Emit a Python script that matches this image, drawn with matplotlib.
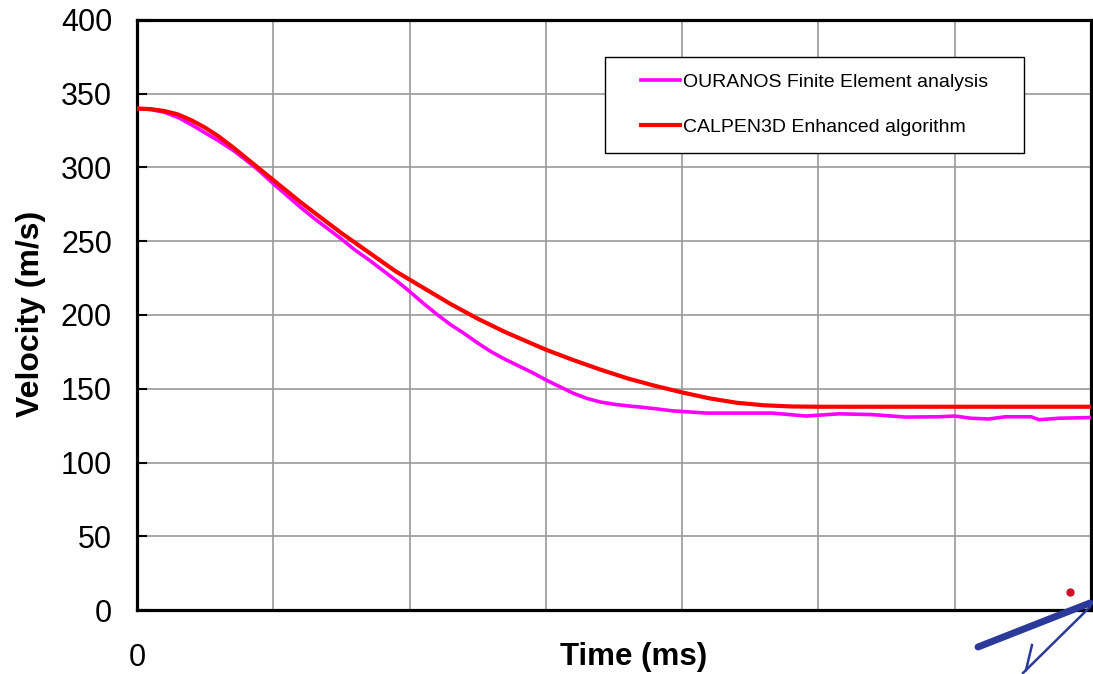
import matplotlib
matplotlib.use('Agg')
import matplotlib.pyplot as plt
from matplotlib.lines import Line2D
from matplotlib.path import Path

plt.rcParams['font.family'] = ['Liberation Sans', 'DejaVu Sans']

# CALPEN3D enhanced algorithm (smooth curve)
t_calpen = [0, 0.1, 0.2, 0.3, 0.4, 0.5, 0.6, 0.7, 0.8, 0.9, 1.0, 1.1, 1.2,
            1.3, 1.4, 1.5, 1.6, 1.7, 1.8, 1.9, 2.0, 2.1, 2.2, 2.3, 2.4, 2.5,
            2.6, 2.7, 2.8, 2.9, 3.0, 3.2, 3.4, 3.6, 3.8, 4.0, 4.2, 4.4, 4.6,
            4.8, 5.0, 6.0, 7.0]
v_calpen = [340, 339.6, 338.3, 336, 332, 327, 321, 314, 306.5, 299, 291.5,
            284, 276.5, 269.5, 262.5, 255.5, 249, 242.5, 236, 229.5, 224,
            218.5, 213, 207.5, 202.5, 197.5, 193, 188.5, 184.5, 180.5, 176.5,
            169.5, 163, 157, 152, 147.5, 143.5, 140.5, 138.8, 138, 137.8,
            137.8, 137.8]

# OURANOS finite element analysis (noisy tail)
t_ouranos = [0, 0.1, 0.2, 0.3, 0.4, 0.5, 0.6, 0.7, 0.8, 0.9, 1.0, 1.1, 1.2,
             1.3, 1.4, 1.5, 1.6, 1.7, 1.8, 1.9, 2.0, 2.1, 2.2, 2.3, 2.4, 2.5,
             2.6, 2.7, 2.8, 2.9, 3.0, 3.1, 3.2, 3.3, 3.4, 3.5, 3.6, 3.7, 3.8,
             3.93, 4.18, 4.42, 4.66, 4.91, 5.15, 5.39, 5.64, 5.88, 6.0, 6.12,
             6.25, 6.37, 6.56, 6.62, 6.76, 7.0]
v_ouranos = [340, 339.3, 337.5, 334, 329, 323.5, 318, 312, 305, 297.5, 289,
             281, 273, 265.5, 258.5, 251.5, 244, 237.5, 230.5, 223.5, 216,
             208, 200.5, 193.5, 187.5, 181, 175, 170, 165.5, 161, 156, 151.5,
             147, 143.5, 141, 139.5, 138.4, 137.5, 136.5, 135, 133.5, 133.5,
             133.5, 131.5, 133, 132.5, 130.8, 131, 131.5, 130, 129.5, 131,
             131, 129, 130, 130.5]

y_ticks = [0, 50, 100, 150, 200, 250, 300, 350, 400]
x_ticks = [0, 1, 2, 3, 4, 5, 6, 7]
x_labels = ['0', '', '', '', '', '', '', '']


def wide_box(x0, y0, width, height, mutation_size):
    # square frame with extra room on the left and right only
    px = 1.0 * mutation_size
    return Path([(x0 - px, y0), (x0 + width + px, y0),
                 (x0 + width + px, y0 + height), (x0 - px, y0 + height),
                 (x0 - px, y0)], closed=True)


fig = plt.figure(figsize=(10.93, 6.74), dpi=100)
ax = fig.add_axes([137 / 1093, 64 / 674, 954 / 1093, 590 / 674])

ax.plot(t_ouranos, v_ouranos, color='#ff00ff', lw=2.6,
        label='OURANOS Finite Element analysis', zorder=3,
        solid_joinstyle='round')
ax.plot(t_calpen, v_calpen, color='#ff0000', lw=3.0,
        label='CALPEN3D Enhanced algorithm', zorder=4,
        solid_joinstyle='round')

ax.set_xlim(0, 7)
ax.set_ylim(0, 400)
ax.set_yticks(y_ticks)
ax.set_xticks(x_ticks)
ax.set_xticklabels(x_labels)
ax.grid(True, color='#999999', lw=1.2)
ax.set_axisbelow(True)

for s in ax.spines.values():
    s.set_linewidth(2.3)
    s.set_color('black')

ax.tick_params(axis='y', direction='in', length=7, width=1.5,
               labelsize=22, pad=18)
ax.tick_params(axis='x', length=0, labelsize=22, pad=24)

fig.text(31 / 1093, 1 - 314 / 674, 'Velocity (m/s)', rotation=90,
         fontsize=23, fontweight='bold', ha='center', va='center')
fig.text(634 / 1093, 1 - 657 / 674, 'Time (ms)', fontsize=22.5,
         fontweight='bold', ha='center', va='center')

leg = ax.legend(loc='upper left', bbox_to_anchor=(624 / 1093, 1 - 57 / 674),
                bbox_transform=fig.transFigure, fontsize=14, frameon=True,
                fancybox=False, edgecolor='black', framealpha=1,
                handlelength=2.05, handletextpad=0.15, labelspacing=1.4,
                borderpad=0.85, borderaxespad=0)
leg.get_frame().set_linewidth(1.0)
leg.get_frame().set_boxstyle(wide_box)

# logo strokes in the lower right corner
logo_blue = '#2b3a9a'
fig.add_artist(Line2D([978 / 1093, 1090 / 1093], [1 - 647 / 674, 1 - 603 / 674],
                      color=logo_blue, lw=5, solid_capstyle='round'))
fig.add_artist(Line2D([1090 / 1093, 1023 / 1093], [1 - 607 / 674, 1 - 673 / 674],
                      color=logo_blue, lw=1.8))
fig.add_artist(Line2D([1032 / 1093, 1026 / 1093], [1 - 645 / 674, 1 - 670 / 674],
                      color=logo_blue, lw=1.8))
fig.add_artist(Line2D([1070 / 1093], [1 - 592 / 674], marker='o',
                      markersize=5, color='#d0102a', lw=0))

fig.savefig('out.png', dpi=100)
